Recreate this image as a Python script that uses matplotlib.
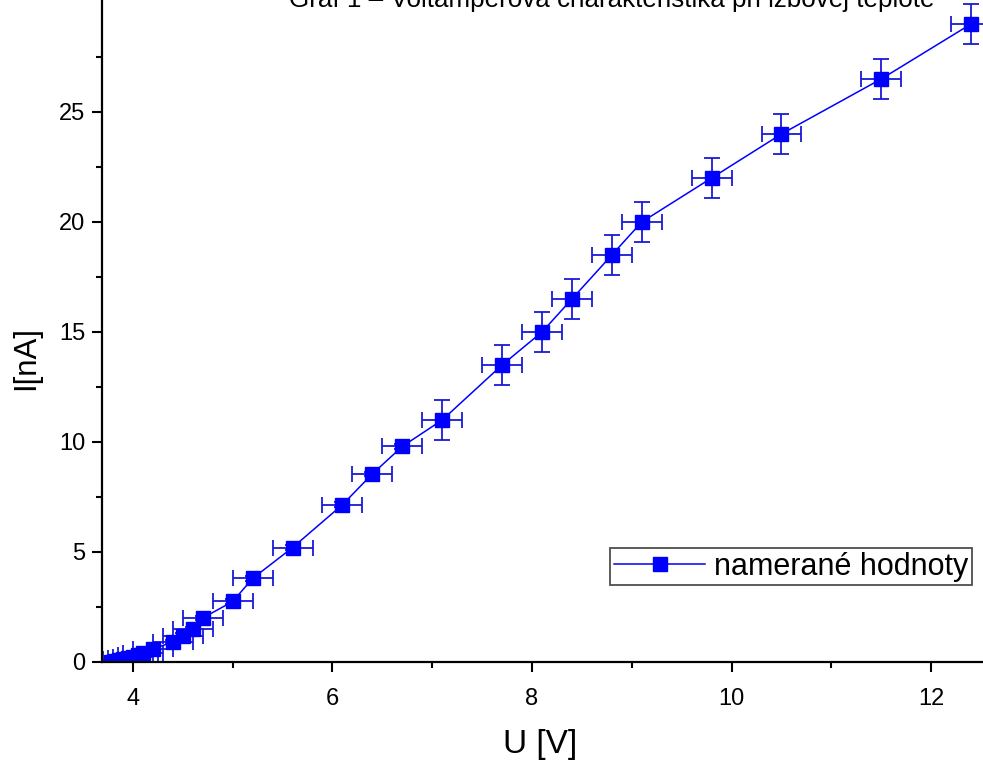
import matplotlib
matplotlib.use("Agg")
import matplotlib.pyplot as plt
from matplotlib.ticker import FixedLocator
from matplotlib.lines import Line2D

# Data
U = [3.78, 3.82, 3.86, 3.90, 3.95, 4.00, 4.05, 4.10, 4.20, 4.40, 4.50, 4.60, 4.70,
     5.00, 5.20, 5.60, 6.10, 6.40, 6.70, 7.10, 7.70, 8.10, 8.40, 8.80, 9.10,
     9.80, 10.50, 11.50, 12.40]
I = [0.02, 0.05, 0.08, 0.12, 0.17, 0.22, 0.30, 0.40, 0.60, 0.90, 1.20, 1.50, 2.00,
     2.75, 3.80, 5.20, 7.15, 8.55, 9.80, 11.00, 13.50, 15.00, 16.50, 18.50, 20.00,
     22.00, 24.00, 26.50, 29.00]
U_err = [0.2] * len(U)
I_err = [0.9 if v >= 10 else 0.1 for v in I]

x_major = [4, 6, 8, 10, 12]
x_minor = [5, 7, 9, 11]
y_major = [0, 5, 10, 15, 20, 25]
y_minor = [2.5, 7.5, 12.5, 17.5, 22.5, 27.5]

title_text = "Graf 1 – Voltampérová charakteristika pri izbovej teplote"
legend_label = "namerané hodnoty"
x_label = "U [V]"
y_label = "I[nA]"

plt.rcParams['font.family'] = ['Liberation Sans', 'DejaVu Sans']

fig = plt.figure(figsize=(9.83, 7.6), dpi=100)
W, H = 983, 760
ax = fig.add_axes([102 / W, (H - 662) / H, 1 - 102 / W, 662 / H])

blue = '#0000ff'
ax.errorbar(U, I, xerr=U_err, yerr=I_err, fmt='s-', color=blue,
            ecolor='#1a1ad8', elinewidth=1.3, capsize=5.5, capthick=1.3,
            markersize=9.5, linewidth=1.1)

ax.set_xlim(3.69, 12.52)
ax.set_ylim(0, 30.09)

ax.xaxis.set_major_locator(FixedLocator(x_major))
ax.xaxis.set_minor_locator(FixedLocator(x_minor))
ax.yaxis.set_major_locator(FixedLocator(y_major))
ax.yaxis.set_minor_locator(FixedLocator(y_minor))

for s in ['top', 'right']:
    ax.spines[s].set_visible(False)
for s in ['left', 'bottom']:
    ax.spines[s].set_linewidth(1.6)

ax.tick_params(which='major', direction='out', length=7, width=1.5, labelsize=17)
ax.tick_params(axis='y', which='major', pad=5)
ax.tick_params(axis='x', which='major', pad=12)
ax.tick_params(which='minor', direction='out', length=4, width=1.5)

ax.set_xlabel(x_label, fontsize=24, va='center')
ax.xaxis.set_label_coords((540 - 102) / (W - 102), (662 - 745) / 662)
ax.set_ylabel(y_label, fontsize=22.5, va='center')
ax.yaxis.set_label_coords((26 - 102) / (W - 102), (662 - 358) / 662)

handle = Line2D([], [], color=blue, marker='s', markersize=9.5, linewidth=1.1)
leg = ax.legend([handle], [legend_label], loc='upper left',
                bbox_to_anchor=((610 - 102) / (W - 102), (662 - 548) / 662),
                fontsize=22, frameon=True, fancybox=False, borderpad=0.12,
                handlelength=3.0, handletextpad=0.3, borderaxespad=0)
leg.get_frame().set_edgecolor('#222222')
leg.get_frame().set_linewidth(1.3)

fig.text(612 / W, 1 - 7 / H, title_text, fontsize=18.7, ha='center', va='baseline')

fig.savefig("out.png", dpi=100)
